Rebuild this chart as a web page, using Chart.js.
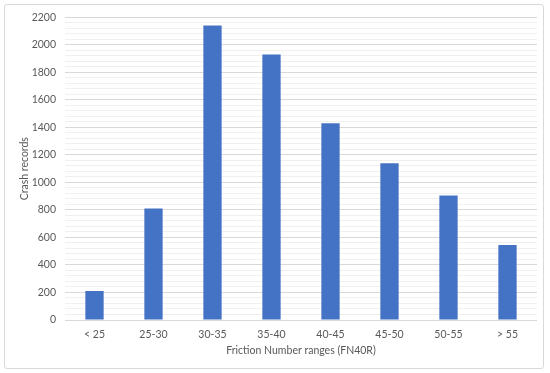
<!DOCTYPE html>
<html>
<head>
<meta charset="utf-8">
<script src="https://cdn.jsdelivr.net/npm/chart.js@4/dist/chart.umd.min.js"></script>
<style>
  html, body { margin: 0; padding: 0; background: #ffffff; }
  #frame { position: absolute; left: 4px; top: 4px; width: 538px; height: 363px; border: 1px solid #d9d9d9; border-radius: 3px; background: #fff; }
  #wrap { position: absolute; left: 0; top: -3px; width: 538px; height: 366px; }
</style>
</head>
<body>
<div id="frame"><div id="wrap"><canvas id="c"></canvas></div></div>
<script>
const categories = ["< 25", "25-30", "30-35", "35-40", "40-45", "45-50", "50-55", "> 55"];
const crashRecords = [210, 810, 2140, 1930, 1430, 1140, 905, 545];
const yMax = 2200;
const yMajorStep = 200;
const yMinorStep = 40;
const xTitle = "Friction Number ranges (FN40R)";
const yTitle = "Crash records";

const FONT = "Lato, 'Open Sans', sans-serif";
const TXT = "#595959";

new Chart(document.getElementById('c'), {
  type: 'bar',
  data: {
    labels: categories,
    datasets: [{
      data: crashRecords,
      backgroundColor: '#4472C4',
      borderWidth: 0,
      barPercentage: 0.31,
      categoryPercentage: 1.0
    }]
  },
  options: {
    responsive: true,
    maintainAspectRatio: false,
    animation: false,
    devicePixelRatio: 1,
    layout: { padding: { top: 4, right: 6, bottom: 11, left: 13 } },
    plugins: { legend: { display: false }, tooltip: { enabled: false } },
    scales: {
      x: {
        grid: { display: false },
        border: { display: false },
        ticks: { color: TXT, font: { family: FONT, size: 10.5 }, padding: 0, maxRotation: 0 },
        title: { display: true, text: xTitle, color: TXT, font: { family: FONT, size: 10.5 }, padding: { top: 2, bottom: 0 } },
        afterFit: s => { s.height = 37; }
      },
      y: {
        min: 0, max: yMax,
        border: { display: false },
        grid: {
          drawTicks: false,
          lineWidth: 1,
          color: ctx => (ctx.tick && ctx.tick.value % yMajorStep === 0) ? '#d9d9d9' : '#f0f0f0'
        },
        ticks: {
          stepSize: yMinorStep,
          autoSkip: false,
          color: TXT,
          font: { family: FONT, size: 10.5 },
          padding: 9,
          callback: v => (v % yMajorStep === 0) ? String(v) : ''
        },
        title: { display: true, text: yTitle, color: TXT, font: { family: FONT, size: 10.5 }, padding: { top: 0, bottom: 4 } },
        afterFit: s => { s.width = 47; }
      }
    }
  }
});
</script>
</body>
</html>
